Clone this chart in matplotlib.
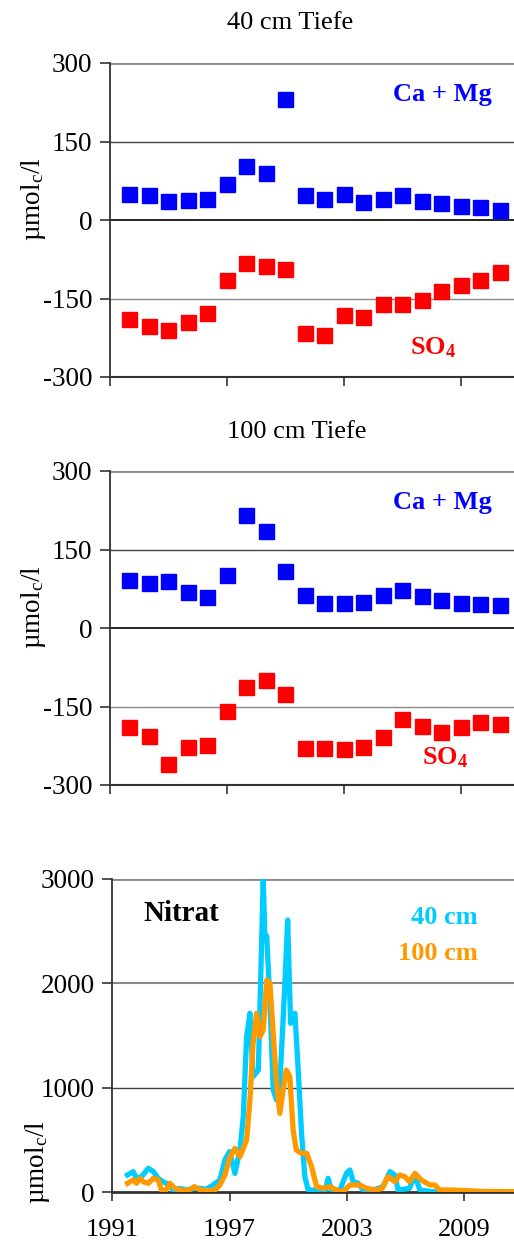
import matplotlib
matplotlib.use('Agg')
import matplotlib.pyplot as plt

plt.rcParams['font.family'] = ['Liberation Serif', 'DejaVu Serif']
plt.rcParams['mathtext.fontset'] = 'custom'
plt.rcParams['mathtext.rm'] = 'Liberation Serif'
plt.rcParams['mathtext.it'] = 'Liberation Serif:italic'
plt.rcParams['mathtext.bf'] = 'Liberation Serif:bold'
plt.rcParams['axes.unicode_minus'] = False

years = list(range(1992, 2012))

camg_40 = [49, 48, 36, 38, 41, 68, 104, 90, 231, 47, 41, 49, 34, 41, 47, 37, 32, 26, 24, 20]
so4_40 = [-189, -203, -210, -194, -177, -115, -83, -87, -93, -215, -219, -182, -185,
          -161, -161, -152, -136, -125, -115, -99]

camg_100 = [92, 86, 89, 69, 59, 101, 215, 185, 108, 64, 48, 48, 50, 63, 73, 62, 54, 48, 46, 43]
so4_100 = [-190, -207, -259, -227, -223, -159, -113, -100, -126, -230, -229, -231, -227,
           -208, -174, -188, -198, -189, -180, -183]

nit40_t = [1991.78, 1992.07, 1992.24, 1992.5, 1992.84, 1993.1, 1993.35, 1993.6, 1993.95,
           1994.1, 1994.45, 1994.8, 1995.15, 1995.5, 1995.8, 1996.15, 1996.5, 1996.76,
           1997.0, 1997.27, 1997.53, 1997.7, 1997.87, 1998.04, 1998.2, 1998.47, 1998.72,
           1998.8, 1998.9, 1999.06, 1999.23, 1999.4, 1999.57, 1999.83, 1999.97, 2000.12,
           2000.34, 2000.5, 2000.68, 2000.85, 2001.02, 2001.28, 2001.6, 2001.9, 2002.04,
           2002.2, 2002.64, 2002.98, 2003.15, 2003.32, 2003.58, 2003.83, 2004.35, 2004.85,
           2005.2, 2005.45, 2005.62, 2006.2, 2006.48, 2006.73, 2007.4, 2008.5, 2009.5,
           2010.5, 2011.6]
nit40_v = [166, 198, 134, 150, 230, 198, 134, 100, 70,
           22, 38, 22, 38, 38, 29, 70, 118, 310,
           390, 180, 405, 725, 1490, 1714, 1107, 1170, 2990,
           2480, 2450, 1840, 980, 884, 1043, 2000, 2607, 1618,
           1714, 1203, 565, 150, 22, 22, 22, 22, 134,
           22, 22, 182, 214, 102, 86, 22, 22, 54,
           198, 166, 22, 38, 166, 22, 6, 4, 4,
           4, 4]

nit100_t = [1991.78, 1992.07, 1992.24, 1992.41, 1992.58, 1992.84, 1993.1, 1993.35, 1993.52,
            1993.7, 1993.95, 1994.2, 1994.55, 1994.95, 1995.2, 1995.5, 1995.9, 1996.25,
            1996.5, 1996.76, 1997.0, 1997.27, 1997.53, 1997.87, 1998.04, 1998.2, 1998.38,
            1998.55, 1998.72, 1998.9, 1999.06, 1999.23, 1999.4, 1999.57, 1999.74, 1999.9,
            2000.08, 2000.25, 2000.41, 2000.68, 2000.94, 2001.19, 2001.45, 2001.8, 2002.13,
            2002.45, 2002.81, 2003.15, 2003.66, 2004.0, 2004.5, 2004.8, 2005.1, 2005.45,
            2005.7, 2005.96, 2006.2, 2006.48, 2006.8, 2007.25, 2007.5, 2007.75, 2008.4,
            2009.1, 2010.0, 2011.6]
nit100_v = [86, 118, 86, 134, 102, 86, 134, 118, 22,
            6, 86, 38, 16, 22, 54, 22, 16, 22,
            70, 166, 326, 421, 341, 501, 884, 1426, 1714,
            1490, 1554, 2033, 2001, 1522, 1043, 756, 980, 1171,
            1107, 597, 405, 373, 373, 246, 54, 38, 54,
            22, 6, 70, 70, 38, 22, 38, 150, 102,
            166, 150, 102, 182, 118, 70, 70, 22, 22,
            16, 8, 6]

x_ticks = [1991, 1997, 2003, 2009]

W, H = 514, 1243
fig = plt.figure(figsize=(W / 100, H / 100), dpi=100)

BLUE = '#0000ff'
RED = '#ff0000'
CYAN = '#00ccff'
ORANGE = '#ff9900'
FS = 19.5
YLABEL = r'µmol$_\mathrm{c}$/l'


def px_axes(left, top, bottom, right=W):
    return fig.add_axes([left / W, 1 - bottom / H, (right - left) / W, (bottom - top) / H])


def style_axes(ax, ylim, yticks, grid_colors, show_xlabels):
    ax.set_ylim(*ylim)
    ax.set_yticks(yticks)
    ax.set_xticks(x_ticks)
    if not show_xlabels:
        ax.set_xticklabels([])
    for side in ['top', 'right']:
        ax.spines[side].set_visible(False)
    ax.spines['left'].set_color('#333333')
    ax.spines['left'].set_linewidth(1.3)
    ax.spines['bottom'].set_color('#333333')
    ax.spines['bottom'].set_linewidth(1.5)
    ax.tick_params(axis='y', direction='out', length=7.5, width=1.2, color='#333333',
                   labelsize=FS, pad=5)
    ax.tick_params(axis='x', direction='out', length=6.5, width=1.2, color='#333333',
                   labelsize=19, pad=13)
    for val, (col, lw) in zip(yticks[1:], grid_colors):
        ax.axhline(val, color=col, lw=lw, zorder=1)


# panel 1 and 2: ion balance
for top, bottom, camg, so4, title, title_y, title_x, so4_x, so4_y in [
        (63, 377, camg_40, so4_40, '40 cm Tiefe', 23, 290, 433, 348),
        (471, 785, camg_100, so4_100, '100 cm Tiefe', 432, 297, 445, 758)]:
    ax = px_axes(109.7, top, bottom)
    ax.set_xlim(1991, 1991 + (W - 109.7) / 19.5)
    ax.plot(years, camg, 's', color=BLUE, ms=10.8, zorder=3)
    ax.plot(years, so4, 's', color=RED, ms=10.8, zorder=3)
    style_axes(ax, (-300, 300), [-300, -150, 0, 150, 300],
               [('#888888', 1.0), ('black', 1.2), ('#444444', 1.0), ('#888888', 2.0)], False)
    fig.text(title_x / W, 1 - title_y / H, title, ha='center', va='center', fontsize=19)
    fig.text(492 / W, 1 - (top + 31) / H, 'Ca + Mg', color=BLUE, fontsize=19,
             fontweight='bold', ha='right', va='center')
    fig.text(so4_x / W, 1 - so4_y / H, r'SO$_\mathbf{4}$', color=RED, fontsize=19,
             fontweight='bold', ha='center', va='center')
    fig.text(33 / W, 1 - (top + 136) / H, YLABEL, rotation=90, fontsize=FS,
             ha='center', va='center')

# panel 3: nitrate
ax = px_axes(112.3, 879, 1192.3)
ax.set_xlim(1991, 1991 + (W - 112.3) / 19.55)
ax.plot(nit40_t, nit40_v, color=CYAN, lw=3.8, zorder=3, solid_joinstyle='round')
ax.plot(nit100_t, nit100_v, color=ORANGE, lw=3.8, zorder=4, solid_joinstyle='round')
style_axes(ax, (0, 3000), [0, 1000, 2000, 3000],
           [('#444444', 1.0), ('#888888', 1.5), ('#888888', 2.0)], True)
ax.spines['bottom'].set_linewidth(2.0)
ax.text(0.077, 0.89, 'Nitrat', transform=ax.transAxes, fontsize=21, fontweight='bold',
        ha='left', va='center')
fig.text(478 / W, 1 - 917 / H, '40 cm', color=CYAN, fontsize=19, fontweight='bold',
         ha='right', va='center')
fig.text(478 / W, 1 - 954 / H, '100 cm', color=ORANGE, fontsize=19, fontweight='bold',
         ha='right', va='center')
fig.text(37 / W, 1 - 1162 / H, YLABEL, rotation=90, fontsize=FS,
         ha='center', va='center')

fig.savefig('out.png', dpi=100)
